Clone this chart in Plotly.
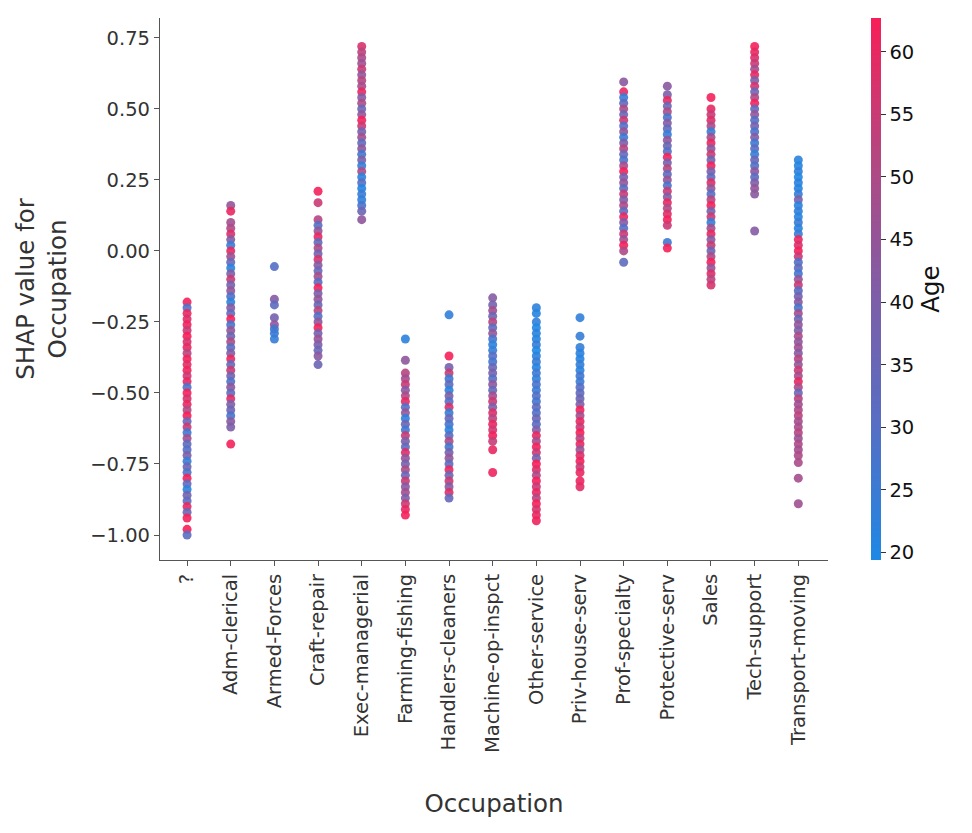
import plotly.graph_objects as go

categories = ["?", "Adm-clerical", "Armed-Forces", "Craft-repair", "Exec-managerial",
              "Farming-fishing", "Handlers-cleaners", "Machine-op-inspct", "Other-service",
              "Priv-house-serv", "Prof-specialty", "Protective-serv", "Sales",
              "Tech-support", "Transport-moving"]

# SHAP values and ages per occupation
q_shap = [-0.18, -0.20, -0.22, -0.24, -0.26, -0.28, -0.30, -0.32, -0.34, -0.36, -0.38, -0.40, -0.42,
          -0.44, -0.46, -0.48, -0.50, -0.52, -0.54, -0.56, -0.58, -0.60, -0.62, -0.64, -0.66, -0.68,
          -0.70, -0.72, -0.74, -0.76, -0.78, -0.80, -0.82, -0.84, -0.86, -0.88, -0.90, -0.92, -0.94,
          -0.98, -1.00]
q_age = [62, 30, 60, 58, 61, 55, 63, 57, 60, 52, 62, 59, 61, 56, 60, 28, 62, 57, 60, 50, 63, 35, 55,
         26, 48, 33, 30, 40, 24, 36, 29, 62, 34, 22, 38, 32, 60, 36, 62, 63, 32]

adm_shap = [0.16, 0.14, 0.10, 0.08, 0.06, 0.04, 0.02, 0.00, -0.02, -0.04, -0.06, -0.08, -0.10, -0.12,
            -0.14, -0.16, -0.18, -0.20, -0.22, -0.24, -0.26, -0.28, -0.30, -0.32, -0.34, -0.36, -0.38,
            -0.40, -0.42, -0.44, -0.46, -0.48, -0.50, -0.52, -0.54, -0.56, -0.58, -0.60, -0.62, -0.68]
adm_age = [45, 60, 48, 50, 58, 42, 25, 60, 47, 35, 22, 40, 55, 38, 45, 30, 22, 42, 33, 62, 28, 45, 36,
           50, 31, 41, 60, 34, 55, 38, 29, 44, 33, 58, 40, 37, 28, 42, 40, 62]

armed_shap = [-0.055, -0.17, -0.19, -0.235, -0.26, -0.275, -0.29, -0.31]
armed_age = [30, 42, 32, 38, 45, 27, 25, 24]

craft_shap = [0.21, 0.17, 0.11, 0.09, 0.07, 0.05, 0.03, 0.01, -0.01, -0.03, -0.05, -0.07, -0.09, -0.11,
              -0.13, -0.15, -0.17, -0.19, -0.21, -0.23, -0.25, -0.27, -0.29, -0.31, -0.33, -0.35,
              -0.37, -0.40]
craft_age = [62, 55, 52, 30, 45, 60, 33, 50, 38, 57, 42, 35, 48, 31, 62, 40, 45, 36, 52, 30, 44, 62,
             38, 46, 40, 35, 43, 36]

exec_shap = [0.72, 0.70, 0.68, 0.66, 0.64, 0.62, 0.60, 0.58, 0.56, 0.54, 0.52, 0.50, 0.48, 0.46, 0.44,
             0.42, 0.40, 0.38, 0.36, 0.34, 0.32, 0.30, 0.28, 0.26, 0.24, 0.22, 0.20, 0.18, 0.16, 0.14,
             0.11]
exec_age = [57, 53, 50, 47, 55, 45, 52, 48, 60, 42, 50, 35, 45, 62, 55, 38, 48, 33, 44, 27, 40, 24, 50,
            22, 30, 21, 25, 23, 28, 36, 44]

farm_shap = [-0.31, -0.385, -0.43, -0.45, -0.47, -0.49, -0.51, -0.53, -0.55, -0.57, -0.59, -0.61,
             -0.63, -0.65, -0.67, -0.69, -0.71, -0.73, -0.75, -0.77, -0.79, -0.81, -0.83, -0.85,
             -0.87, -0.89, -0.91, -0.93]
farm_age = [22, 44, 52, 48, 55, 42, 50, 60, 30, 45, 23, 36, 26, 55, 40, 33, 58, 45, 38, 50, 35, 55,
            42, 48, 40, 55, 60, 62]

hand_shap = [-0.225, -0.37, -0.41, -0.43, -0.45, -0.47, -0.49, -0.51, -0.53, -0.55, -0.57, -0.59,
             -0.61, -0.63, -0.65, -0.67, -0.69, -0.71, -0.73, -0.75, -0.77, -0.79, -0.81, -0.83,
             -0.85, -0.87]
hand_age = [23, 62, 38, 55, 26, 33, 22, 40, 30, 58, 24, 35, 28, 22, 31, 50, 27, 38, 45, 32, 60, 36,
            55, 42, 58, 34]

mach_shap = [-0.165, -0.19, -0.21, -0.23, -0.25, -0.27, -0.29, -0.31, -0.33, -0.35, -0.37, -0.39,
             -0.41, -0.43, -0.45, -0.47, -0.49, -0.51, -0.53, -0.55, -0.57, -0.59, -0.61, -0.63,
             -0.65, -0.67, -0.70, -0.78]
mach_age = [42, 38, 48, 36, 52, 32, 45, 28, 22, 24, 30, 27, 35, 38, 30, 44, 33, 48, 55, 40, 58, 52,
            60, 56, 62, 54, 60, 61]

other_shap = [-0.20, -0.22, -0.25, -0.27, -0.29, -0.31, -0.33, -0.35, -0.37, -0.39, -0.41, -0.43,
              -0.45, -0.47, -0.49, -0.51, -0.53, -0.55, -0.57, -0.59, -0.61, -0.63, -0.65, -0.67,
              -0.69, -0.71, -0.73, -0.75, -0.77, -0.79, -0.81, -0.83, -0.85, -0.87, -0.89, -0.91,
              -0.93, -0.95]
other_age = [22, 21, 23, 20, 22, 21, 24, 20, 22, 25, 21, 26, 23, 28, 25, 30, 27, 33, 29, 36, 31, 40,
             60, 48, 62, 55, 38, 63, 58, 50, 62, 55, 60, 52, 62, 57, 60, 61]

priv_shap = [-0.235, -0.30, -0.34, -0.36, -0.38, -0.40, -0.42, -0.44, -0.46, -0.48, -0.50, -0.52,
             -0.54, -0.56, -0.58, -0.60, -0.62, -0.64, -0.66, -0.68, -0.70, -0.72, -0.74, -0.76,
             -0.78, -0.81, -0.83]
priv_age = [23, 24, 23, 22, 21, 24, 22, 27, 25, 30, 33, 36, 40, 62, 48, 60, 55, 62, 52, 60, 45, 58,
            62, 55, 60, 61, 59]

prof_shap = [0.595, 0.56, 0.54, 0.52, 0.50, 0.48, 0.46, 0.44, 0.42, 0.40, 0.38, 0.36, 0.34, 0.32,
             0.30, 0.28, 0.26, 0.24, 0.22, 0.20, 0.18, 0.16, 0.14, 0.12, 0.10, 0.08, 0.06, 0.04,
             0.02, 0.00, -0.04]
prof_age = [43, 60, 24, 33, 50, 36, 55, 30, 45, 25, 40, 52, 35, 28, 48, 62, 38, 45, 32, 55, 40, 50,
            33, 60, 42, 30, 55, 46, 62, 50, 33]

prot_shap = [0.58, 0.55, 0.53, 0.51, 0.49, 0.47, 0.45, 0.43, 0.41, 0.39, 0.37, 0.35, 0.33, 0.31,
             0.29, 0.27, 0.25, 0.23, 0.21, 0.19, 0.17, 0.15, 0.13, 0.11, 0.09, 0.03, 0.01]
prot_age = [43, 40, 60, 35, 50, 28, 42, 33, 24, 45, 36, 30, 62, 38, 52, 33, 46, 28, 55, 41, 60, 50,
            58, 62, 55, 26, 62]

sales_shap = [0.54, 0.50, 0.48, 0.46, 0.44, 0.42, 0.40, 0.38, 0.36, 0.34, 0.32, 0.30, 0.28, 0.26,
              0.24, 0.22, 0.20, 0.18, 0.16, 0.14, 0.12, 0.10, 0.08, 0.06, 0.04, 0.02, 0.00, -0.02,
              -0.04, -0.06, -0.08, -0.10, -0.12]
sales_age = [62, 60, 55, 58, 50, 25, 48, 60, 43, 55, 36, 62, 40, 33, 58, 45, 30, 52, 62, 38, 55, 25,
             48, 60, 42, 55, 36, 50, 62, 45, 58, 52, 57]

tech_shap = [0.72, 0.70, 0.68, 0.66, 0.64, 0.62, 0.60, 0.58, 0.56, 0.54, 0.52, 0.50, 0.48, 0.46,
             0.44, 0.42, 0.40, 0.38, 0.36, 0.34, 0.32, 0.30, 0.28, 0.26, 0.24, 0.22, 0.20, 0.07]
tech_age = [62, 60, 58, 55, 48, 60, 40, 57, 35, 50, 62, 33, 45, 30, 38, 28, 42, 26, 32, 24, 36, 29,
            44, 31, 40, 45, 43, 42]

trans_shap = [0.32, 0.30, 0.28, 0.26, 0.24, 0.22, 0.20, 0.18, 0.16, 0.14, 0.12, 0.10, 0.08, 0.06,
              0.04, 0.02, 0.00, -0.02, -0.04, -0.06, -0.08, -0.10, -0.12, -0.14, -0.16, -0.18,
              -0.20, -0.22, -0.24, -0.26, -0.28, -0.30, -0.32, -0.34, -0.36, -0.38, -0.40, -0.42,
              -0.44, -0.46, -0.48, -0.50, -0.52, -0.54, -0.56, -0.58, -0.60, -0.62, -0.64, -0.66,
              -0.68, -0.70, -0.72, -0.745, -0.80, -0.89]
trans_age = [22, 21, 23, 20, 22, 21, 24, 40, 22, 23, 21, 25, 22, 24, 60, 58, 62, 55, 30, 33, 26, 45,
             55, 31, 38, 43, 28, 48, 36, 45, 40, 50, 44, 47, 42, 52, 45, 55, 48, 60, 50, 35, 52, 47,
             50, 53, 48, 49, 52, 46, 50, 48, 50, 49, 48, 47]

series_shap = [q_shap, adm_shap, armed_shap, craft_shap, exec_shap, farm_shap, hand_shap, mach_shap,
               other_shap, priv_shap, prof_shap, prot_shap, sales_shap, tech_shap, trans_shap]
series_age = [q_age, adm_age, armed_age, craft_age, exec_age, farm_age, hand_age, mach_age,
              other_age, priv_age, prof_age, prot_age, sales_age, tech_age, trans_age]

y_ticks = [0.75, 0.50, 0.25, 0.00, -0.25, -0.50, -0.75, -1.00]
y_ticktext = ["0.75", "0.50", "0.25", "0.00", "\u22120.25", "\u22120.50", "\u22120.75", "\u22121.00"]
age_ticks = [20, 25, 30, 35, 40, 45, 50, 55, 60]

xs, ys, cs = [], [], []
for i, (sv, av) in enumerate(zip(series_shap, series_age)):
    xs += [i] * len(sv)
    ys += sv
    cs += av

colorscale = [
    [0.0, "rgb(30,136,229)"],
    [0.25, "rgb(86,110,196)"],
    [0.5, "rgb(128,93,166)"],
    [0.75, "rgb(182,70,128)"],
    [1.0, "rgb(248,30,88)"],
]

font_family = "DejaVu Sans"
tick_size = 19.5
title_size = 24.5

fig = go.Figure(go.Scatter(
    x=xs, y=ys, mode="markers",
    marker=dict(size=9, color=cs, colorscale=colorscale, cmin=19.4, cmax=62.7, opacity=0.9,
                line=dict(width=0),
                colorbar=dict(
                    thickness=10, len=1.0, lenmode="fraction", y=0.5, yanchor="middle",
                    x=1.064, xanchor="left", xpad=0, ypad=0, outlinewidth=0,
                    tickvals=age_ticks, ticks="outside", ticklen=5, tickcolor="#333",
                    tickprefix="\u2002",
                    tickfont=dict(family=font_family, size=tick_size, color="#111"),
                    title=dict(text="Age", side="right",
                               font=dict(family=font_family, size=title_size, color="#111")),
                )),
    hoverinfo="skip",
))

fig.update_layout(
    width=972, height=833,
    margin=dict(l=160, r=144, t=18, b=273),
    paper_bgcolor="white", plot_bgcolor="white",
    showlegend=False,
    font=dict(family=font_family, color="#333"),
)
fig.update_xaxes(
    range=[-0.62, 14.68], tickvals=list(range(len(categories))), ticktext=categories,
    tickangle=-90, showgrid=False, zeroline=False,
    showline=True, linecolor="#555", linewidth=1.2,
    ticks="outside", ticklen=5, tickcolor="#555",
    tickfont=dict(family=font_family, size=tick_size, color="#333"),
    title=dict(text="Occupation", font=dict(family=font_family, size=title_size, color="#333"), standoff=42),
)
fig.update_yaxes(
    range=[-1.088, 0.82], tickvals=y_ticks, ticktext=y_ticktext,
    showgrid=False, zeroline=False,
    showline=True, linecolor="#555", linewidth=1.2,
    ticks="outside", ticklen=5, tickcolor="#555",
    tickfont=dict(family=font_family, size=tick_size, color="#333"),
    title=dict(text="SHAP value for<br>Occupation", font=dict(family=font_family, size=title_size, color="#333"),
               standoff=16),
)

fig.write_html("out.html")
